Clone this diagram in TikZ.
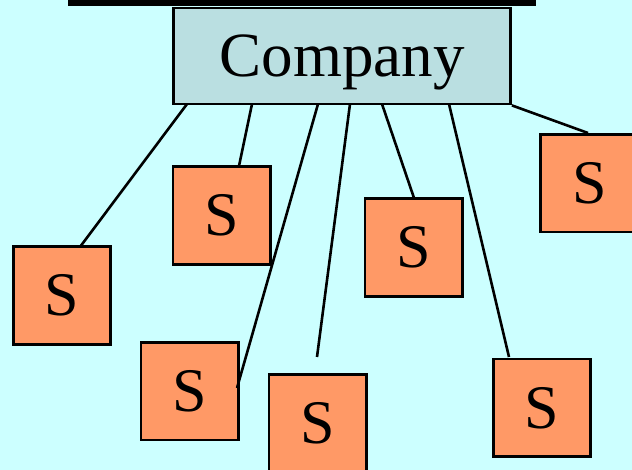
\documentclass[tikz,border=0pt]{standalone}
\usepackage{fontspec}
\setmainfont{Liberation Serif}
\newfontfamily\timesx{Liberation Serif}
\definecolor{bgcyan}{HTML}{CCFFFF}
\definecolor{compfill}{HTML}{BADFE1}
\definecolor{sfill}{HTML}{FF9966}
\begin{document}
\begin{tikzpicture}[x=1pt,y=-1pt,
  sbox/.style={draw=black,line width=2.8pt,fill=sfill,minimum width=97.5pt,minimum height=97.5pt,inner sep=0pt,font=\timesx\fontsize{62}{70}\selectfont},
  compbox/.style={draw=black,line width=2.8pt,fill=compfill,minimum width=337pt,minimum height=96pt,inner sep=0pt,font=\timesx\fontsize{63}{70}\selectfont,text height=42pt,text depth=0pt},
  link/.style={line width=2.6pt,black}]
\useasboundingbox (0,0) rectangle (632,470);
\clip (0,0) rectangle (632,470);
\fill[bgcyan] (0,0) rectangle (632,470);
\fill[black] (68,0) rectangle (536,6);
\node[compbox] (comp) at (342,56) {Company};
\node[sbox] (s1) at (62,295.5) {S};
\node[sbox] (s2) at (221.7,215.5) {S};
\node[sbox] (s3) at (189.7,391.3) {S};
\node[sbox] (s4) at (317.8,423.3) {S};
\node[sbox] (s5) at (413.7,247.5) {S};
\node[sbox] (s6) at (542,407.8) {S};
\node[sbox] (s7) at (589.3,183.3) {S};
\coordinate (c1) at (187,104);
\coordinate (c2) at (252,104);
\coordinate (c3) at (318,104);
\coordinate (c4) at (350,104);
\coordinate (c5) at (382,104);
\coordinate (c6) at (449,104);
\coordinate (e1) at (80,247);
\coordinate (e2) at (239,166);
\coordinate (e3) at (237,388);
\coordinate (e4) at (317,357);
\coordinate (e5) at (414,198);
\coordinate (e6) at (509,357);
\coordinate (e7) at (588,133);
\draw[link] (c1) -- (e1);
\draw[link] (c2) -- (e2);
\draw[link] (c3) -- (e3);
\draw[link] (c4) -- (e4);
\draw[link] (c5) -- (e5);
\draw[link] (c6) -- (e6);
\draw[link] (comp.south east) -- (e7);
\end{tikzpicture}
\end{document}
